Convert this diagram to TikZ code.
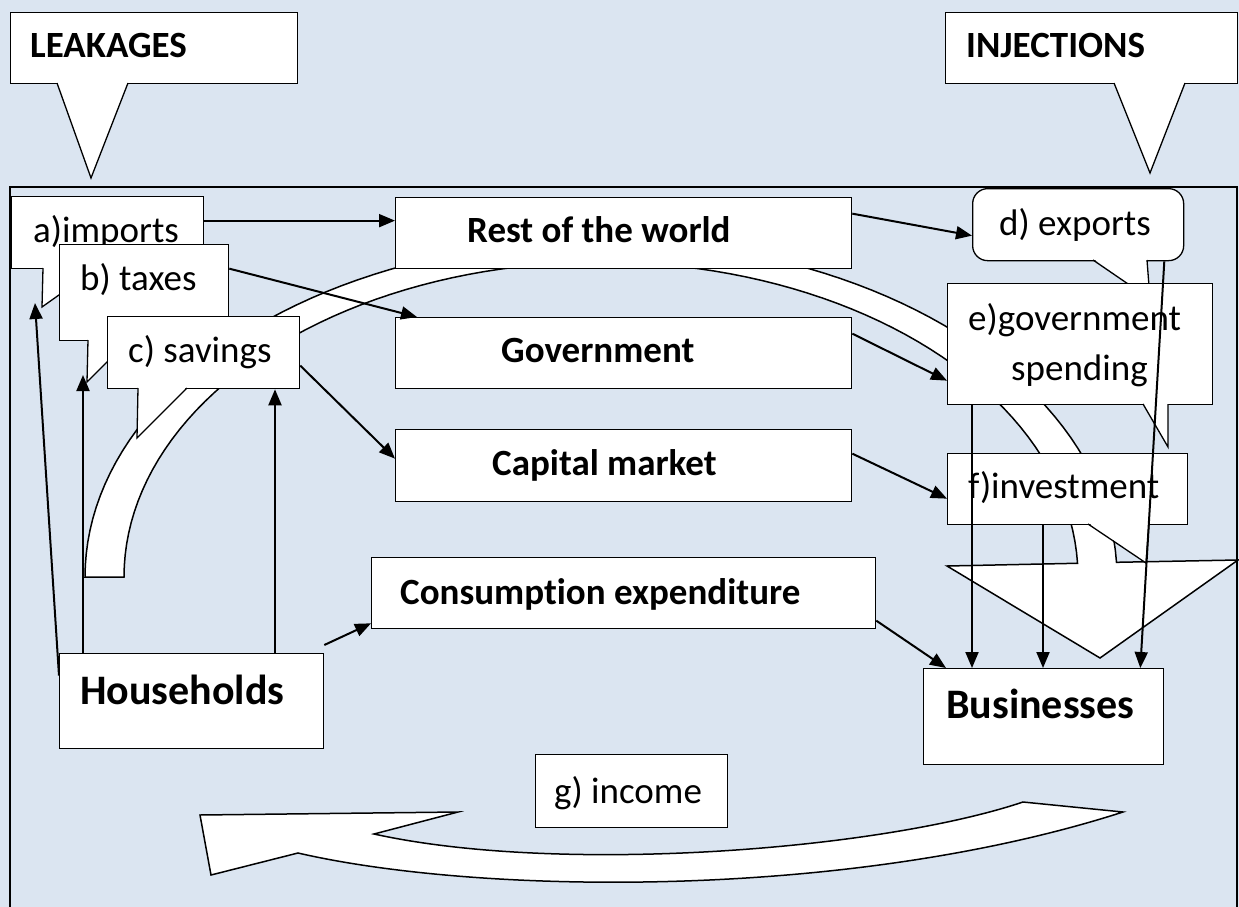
\documentclass[tikz,border=0pt]{standalone}
\usepackage{fontspec}
\setmainfont{Carlito}[Ligatures=NoCommon]
\usetikzlibrary{arrows.meta}
\definecolor{paper}{HTML}{DBE5F1}

% tail of a callout: white wedge that hides the body's bottom edge, then its two sides
\newcommand{\calltail}[3]{%
  \fill[white] ([yshift=1.5pt]#1) -- (#2) -- ([yshift=1.5pt]#3) -- cycle;
  \draw[tailline] (#1) -- (#2) -- (#3);}

\begin{document}
\begin{tikzpicture}[x=1pt,y=-1pt,
  box/.style={draw=black, fill=white, line width=1.3pt, inner sep=0pt, anchor=north west},
  tailline/.style={draw=black, line width=1.3pt, line join=miter},
  txt/.style={inner sep=0pt, anchor=base west, font=\fontsize{37}{44}\selectfont},
  btxt/.style={txt, font=\fontsize{37}{44}\selectfont\bfseries},
  bigtxt/.style={txt, font=\fontsize{42}{50}\selectfont\bfseries},
  flow/.style={draw=black, fill=white, line width=1.5pt, line join=miter},
  conn/.style={line width=2pt, -{Triangle[length=16pt,width=13pt]}},
]
\useasboundingbox (0,0) rectangle (1239,907);
\clip (0,0) rectangle (1239,907);
\fill[paper] (0,0) rectangle (1239,907);

% outer frame of the economy
\draw[line width=1.5pt] (10,187) rectangle (1237,915);

% headline callouts
\node[box, minimum width=287, minimum height=71] (leak) at (10,12) {};
\calltail{57,83}{91,178}{128,83}
\node[btxt] (leaktxt) at (30,57) {LEAKAGES};

\node[box, minimum width=292, minimum height=71] (inj) at (945,12) {};
\calltail{1114,83}{1150,173}{1185,83}
\node[btxt] (injtxt) at (966,57) {INJECTIONS};

% big curved flow from households over the top to businesses
\draw[flow] plot[domain=180:357.5, samples=90, variable=\t] ({601+516*cos(\t)}, {577+337*sin(\t)})
  -- (1238,560) -- (1100,658) -- (947,566)
  -- plot[domain=357.5:180, samples=90, variable=\t] ({601+477*cos(\t)}, {577+315*sin(\t)})
  -- cycle;

% income flow back to households
\draw[flow] (458,812) -- (200,815) -- (211,875) -- (298,853)
  .. controls (480,895) and (850,900) .. (1123,812) -- (1023,802)
  .. controls (880,850) and (560,875) .. (374,834) -- cycle;

% sectors and markets
\node[box, minimum width=456, minimum height=71] (rest) at (395,197) {};
\node[btxt] (resttxt) at (467,242) {Rest of the world};
\node[box, minimum width=456, minimum height=71] (gov) at (395,317) {};
\node[btxt] (govtxt) at (501,362) {Government};
\node[box, minimum width=456, minimum height=72] (cap) at (395,429) {};
\node[btxt] (captxt) at (492,475) {Capital market};
\node[box, minimum width=504, minimum height=71] (cons) at (371,557) {};
\node[btxt] (constxt) at (400,604) {Consumption expenditure};
\node[box, minimum width=264, minimum height=95] (hh) at (59,653) {};
\node[bigtxt] (hhtxt) at (80,704) {Households};
\node[box, minimum width=240, minimum height=96] (biz) at (923,668) {};
\node[bigtxt] (biztxt) at (946,718) {Businesses};
\node[box, minimum width=192, minimum height=73] (inc) at (535,754) {};
\node[txt] (inctxt) at (554,803) {g) income};

% leakage callouts
\node[box, minimum width=192, minimum height=72] (imp) at (11,196) {};
\calltail{43,268}{42,307}{97,268}
\node[txt] (imptxt) at (33,242) {a)imports};
\node[box, minimum width=169, minimum height=96] (tax) at (59,244) {};
\calltail{88,340}{87,382}{129,340}
\node[txt] (taxtxt) at (80,290) {b) taxes};
\node[box, minimum width=192, minimum height=72] (sav) at (107,316) {};
\calltail{138,388}{137,438}{187,388}
\node[txt] (savtxt) at (128,362) {c) savings};

% injection callouts
\node[box, rounded corners=15pt, minimum width=211, minimum height=72] (exp) at (972,188) {};
\calltail{1093,260}{1150,299}{1147,260}
\node[txt] (exptxt) at (999,235) {d) exports};
\node[box, minimum width=265, minimum height=121] (eg) at (947,283) {};
\calltail{1143,404}{1168,447}{1168,404}
\node[txt] (egtxt) at (968,330) {e)government};
\node[txt] (egtxtb) at (1011,380) {spending};
\node[box, minimum width=240, minimum height=71] (inv) at (947,453) {};
\calltail{1088,524}{1146,563}{1149,524}
\node[txt] (invtxt) at (968,498) {f)investment};

% arrow ends at the callout tails
\coordinate (impin) at (35,303);
\coordinate (taxin) at (83,375);

% connectors
\draw[conn] ([yshift=12pt]imp.east) -- ([yshift=12pt]imp.east -| rest.west);
\draw[conn] ([yshift=24pt]tax.east) -- ([xshift=22pt]gov.north west);
\draw[conn] ([yshift=-13pt]sav.east) -- ([yshift=7pt]cap.west);
\draw[conn] ([yshift=19.5pt]rest.east) -- ([yshift=-11pt]exp.west);
\draw[conn] ([yshift=19.5pt]gov.east) -- ([yshift=-36.5pt]eg.west);
\draw[conn] ([yshift=12pt]cap.east) -- ([yshift=-9.5pt]inv.west);
\draw[conn] ([yshift=-27.5pt]cons.east) -- ([xshift=23pt]biz.north west);
\draw[conn] ([xshift=25pt]eg.south west) -- ([xshift=25pt]eg.south west |- biz.north);
\draw[conn] ([xshift=96pt]inv.south west) -- ([xshift=96pt]inv.south west |- biz.north);
\draw[conn] ([xshift=-20pt]exp.south east) -- ([xshift=-24pt]biz.north east);
\draw[conn] ([yshift=8pt]hh.north east) -- ([yshift=6pt]cons.south west);
\draw[conn] ([xshift=216pt]hh.north west) -- ([xshift=216pt]hh.north west |- sav.south);
\draw[conn] ([xshift=24pt]hh.north west) -- (taxin);
\draw[conn] ([yshift=25.5pt]hh.west) -- (impin);
\end{tikzpicture}
\end{document}
